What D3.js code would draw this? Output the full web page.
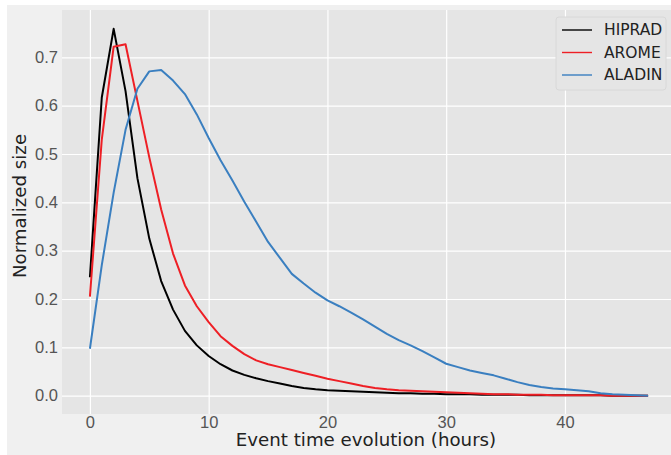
<!DOCTYPE html>
<html>
<head>
<meta charset="utf-8">
<script src="https://cdn.jsdelivr.net/npm/d3@7"></script>
<style>
  body { margin: 0; background: #fff; }
  svg { display: block; font-family: "DejaVu Sans", sans-serif; }
  .axis .domain { display: none; }
  .axis line { stroke: #fff; stroke-width: 1.2; }
  .axis text { fill: #555; font-size: 16.5px; }
</style>
</head>
<body>
<svg id="chart" width="671" height="455"></svg>
<script>
// hours since event start
const hours = d3.range(0, 48);

// normalized event size per model, hourly
const hiprad = [0.245, 0.617, 0.759, 0.630, 0.450, 0.325, 0.237, 0.178, 0.134, 0.104,
  0.082, 0.065, 0.052, 0.043, 0.036, 0.030, 0.025, 0.020, 0.016, 0.013,
  0.011, 0.010, 0.009, 0.008, 0.007, 0.006, 0.005, 0.005, 0.004, 0.004,
  0.003, 0.003, 0.003, 0.002, 0.002, 0.002, 0.002, 0.001, 0.001, 0.001,
  0.001, 0.001, 0.001, 0.001, 0.000, 0.000, 0.000, 0.000];
const arome = [0.205, 0.530, 0.722, 0.727, 0.610, 0.493, 0.385, 0.294, 0.228, 0.185,
  0.152, 0.123, 0.103, 0.086, 0.073, 0.065, 0.059, 0.053, 0.047, 0.041,
  0.035, 0.030, 0.025, 0.020, 0.016, 0.013, 0.011, 0.010, 0.009, 0.008,
  0.007, 0.006, 0.005, 0.004, 0.003, 0.003, 0.002, 0.002, 0.002, 0.001,
  0.001, 0.001, 0.001, 0.001, 0.000, 0.000, 0.000, 0.000];
const aladin = [0.097, 0.270, 0.420, 0.550, 0.635, 0.671, 0.674, 0.652, 0.624, 0.582,
  0.533, 0.487, 0.445, 0.401, 0.360, 0.318, 0.285, 0.252, 0.232, 0.213,
  0.197, 0.185, 0.172, 0.158, 0.143, 0.128, 0.115, 0.104, 0.092, 0.079,
  0.066, 0.059, 0.052, 0.047, 0.042, 0.035, 0.028, 0.022, 0.018, 0.015,
  0.013, 0.011, 0.009, 0.005, 0.003, 0.002, 0.001, 0.000];

const seriesNames = ["HIPRAD", "AROME", "ALADIN"];
const seriesColors = ["#000000", "#ee1f25", "#3a7fc0"];
const xTicks = [0, 10, 20, 30, 40];
const yTicks = [0, 0.1, 0.2, 0.3, 0.4, 0.5, 0.6, 0.7];

const svg = d3.select("#chart");
const W = 671, H = 455;

// matplotlib-like figure face, plot runs off the right edge
svg.append("rect").attr("x", 7).attr("y", 5).attr("width", W).attr("height", H).attr("fill", "#f0f0f0");

const plot = { left: 62, top: 10, right: 676, bottom: 414 };

// domains padded 5% like matplotlib autoscale
const xScale = d3.scaleLinear().domain([-2.35, 49.35]).range([plot.left, plot.right]);
const yScale = d3.scaleLinear().domain([-0.038, 0.798]).range([plot.bottom, plot.top]);

svg.append("rect")
  .attr("x", plot.left).attr("y", plot.top)
  .attr("width", plot.right - plot.left).attr("height", plot.bottom - plot.top)
  .attr("fill", "#e5e5e5");

// x axis + vertical gridlines
svg.append("g")
  .attr("class", "axis")
  .attr("transform", `translate(0, ${plot.bottom})`)
  .call(d3.axisBottom(xScale).tickValues(xTicks).tickSize(-(plot.bottom - plot.top)).tickPadding(2).tickFormat(d3.format("d")));

// y axis + horizontal gridlines
svg.append("g")
  .attr("class", "axis")
  .attr("transform", `translate(${plot.left}, 0)`)
  .call(d3.axisLeft(yScale).tickValues(yTicks).tickSize(-(plot.right - plot.left)).tickPadding(4).tickFormat(d3.format(".1f")));

// lines
const series = [hiprad, arome, aladin];
const line = d3.line().x((d, i) => xScale(hours[i])).y(d => yScale(d));

svg.append("g")
  .selectAll("path")
  .data(series)
  .join("path")
  .attr("d", d => line(d))
  .attr("fill", "none")
  .attr("stroke", (d, i) => seriesColors[i])
  .attr("stroke-width", 2)
  .attr("stroke-linejoin", "round");

// axis labels
svg.append("text")
  .attr("x", 366).attr("y", 446)
  .attr("text-anchor", "middle")
  .attr("fill", "#222")
  .attr("font-size", 18.2)
  .text("Event time evolution (hours)");

svg.append("text")
  .attr("transform", "translate(26, 206) rotate(-90)")
  .attr("text-anchor", "middle")
  .attr("fill", "#222")
  .attr("font-size", 18.2)
  .text("Normalized size");

// legend
const legend = svg.append("g").attr("transform", "translate(556, 17)");
legend.append("rect")
  .attr("width", 110).attr("height", 73).attr("rx", 3)
  .attr("fill", "#e5e5e5").attr("stroke", "#d8d8d8").attr("stroke-width", 1);

const rows = legend.selectAll("g")
  .data(seriesNames)
  .join("g")
  .attr("transform", (d, i) => `translate(0, ${13 + i * 22.5})`);
rows.append("line")
  .attr("x1", 6).attr("x2", 36)
  .attr("stroke", (d, i) => seriesColors[i]).attr("stroke-width", 1.4);
rows.append("text")
  .attr("x", 48).attr("dy", "0.35em")
  .attr("fill", "#222").attr("font-size", 15.5)
  .text(d => d);
</script>
</body>
</html>
